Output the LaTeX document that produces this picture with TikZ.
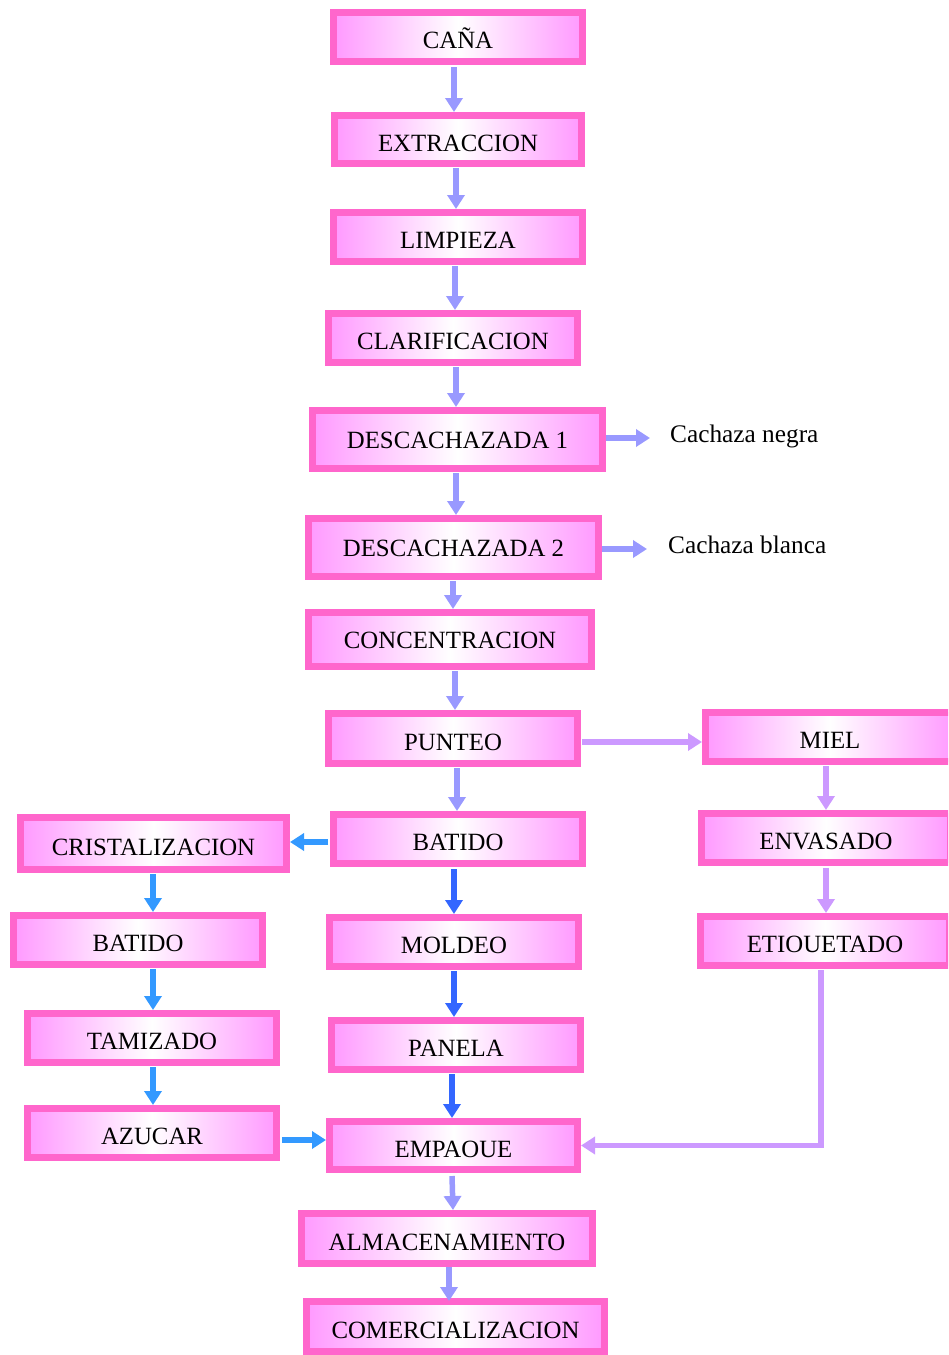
\documentclass[tikz,border=0pt]{standalone}
\usepackage{fontspec}
\setmainfont{Liberation Serif}
\usetikzlibrary{arrows.meta}
\definecolor{boxedge}{HTML}{FF66CC}
\definecolor{boxside}{HTML}{FF99FF}
\definecolor{flowc}{HTML}{9999FF}
\definecolor{sidec}{HTML}{3399FF}
\definecolor{moldc}{HTML}{3366FF}
\definecolor{honeyc}{HTML}{CC99FF}
\tikzset{
  box/.style={draw=boxedge, line width=7pt, outer sep=3.5pt, inner sep=0pt,
    left color=boxside, right color=boxside, middle color=white,
    font=\fontsize{24.8}{28}\selectfont, text height=23pt, text depth=0pt},
  midtext/.style={text height=17pt},
  sz/.style 2 args={minimum width=#1, minimum height=#2},
  link/.style={line width=5.5pt, -{Triangle[width=17pt,length=14pt]}},
  flow/.style={link, draw=flowc},
  sideflow/.style={link, draw=sidec},
  moldflow/.style={link, draw=moldc},
  honeyflow/.style={link, draw=honeyc},
  note/.style={font=\fontsize{25.3}{30}\selectfont, inner sep=0pt, anchor=base west}
}
\begin{document}
\begin{tikzpicture}[x=1pt,y=-1pt]
\useasboundingbox (0,0) rectangle (948,1355);
\clip (0,0) rectangle (948,1355);

% main column
\node[box, sz={249pt}{49pt}] (cana)  at (458,37)     {CAÑA};
\node[box, sz={247pt}{48pt}] (extr)  at (458,139.5)  {EXTRACCION};
\node[box, sz={249pt}{49pt}] (limp)  at (458,237)    {LIMPIEZA};
\node[box, sz={249pt}{49pt}] (clar)  at (453,338)    {CLARIFICACION};
\node[box, midtext, sz={290pt}{58pt}] (desc1) at (457.5,439.5) {DESCACHAZADA 1};
\node[box, midtext, sz={290pt}{58pt}] (desc2) at (453.5,547.5) {DESCACHAZADA 2};
\node[box, midtext, sz={283pt}{54pt}] (conc)  at (450,639.5)  {CONCENTRACION};
\node[box, sz={249pt}{50pt}] (punt)  at (453,738.5)  {PUNTEO};
\node[box, sz={249pt}{49pt}] (bat)   at (458,839)    {BATIDO};
\node[box, sz={249pt}{49pt}] (mold)  at (454,942)    {MOLDEO};
\node[box, sz={249pt}{49pt}] (pan)   at (456,1045)   {PANELA};
\node[box, sz={248pt}{48pt}] (emp)   at (453.5,1145.5) {EMPAOUE};
\node[box, sz={291pt}{50pt}] (alm)   at (447,1238.5) {ALMACENAMIENTO};
\node[box, sz={298pt}{50pt}] (com)   at (455.5,1326.5) {COMERCIALIZACION};

% sugar branch
\node[box, sz={266pt}{52pt}] (cris)  at (153.5,843.5) {CRISTALIZACION};
\node[box, sz={249pt}{49pt}] (batl)  at (138,940)    {BATIDO};
\node[box, sz={249pt}{49pt}] (tam)   at (152,1038)   {TAMIZADO};
\node[box, sz={249pt}{49pt}] (azu)   at (152,1133)   {AZUCAR};

% honey branch
\node[box, sz={249pt}{49pt}] (miel)  at (830,737)    {MIEL};
\node[box, sz={249pt}{49pt}] (env)   at (826,838)    {ENVASADO};
\node[box, sz={249pt}{49pt}] (eti)   at (825,941)    {ETIOUETADO};

% by-products
\node[note] (negra)  at (670,442) {Cachaza negra};
\node[note] (blanca) at (668,553) {Cachaza blanca};
\coordinate (negraend)  at (650,438);
\coordinate (blancaend) at (647,549);

% main flow
\draw[flow] ([xshift=-4pt,yshift=-2pt]cana.south) -- ([xshift=-4pt]extr.north);
\draw[flow] ([xshift=-2pt,yshift=-1pt]extr.south) -- ([xshift=-2pt]limp.north);
\draw[flow] ([xshift=-3pt,yshift=-1pt]limp.south) -- ([xshift=2pt]clar.north);
\draw[flow] ([xshift=3pt,yshift=-1pt]clar.south) -- ([xshift=-1.5pt]desc1.north);
\draw[flow] ([xshift=-1.5pt,yshift=-1pt]desc1.south) -- ([xshift=2.5pt]desc2.north);
\draw[flow] ([xshift=-0.5pt,yshift=-1pt]desc2.south) -- ([xshift=3pt]conc.north);
\draw[flow] ([xshift=5pt,yshift=-1pt]conc.south) -- ([xshift=2pt]punt.north);
\draw[flow] ([xshift=4pt,yshift=-1pt]punt.south) -- ([xshift=-1pt]bat.north);
\draw[moldflow] ([xshift=-4pt,yshift=-2pt]bat.south) -- ([xshift=0pt]mold.north);
\draw[moldflow] ([xshift=0pt,yshift=-1pt]mold.south) -- ([xshift=-2pt]pan.north);
\draw[moldflow] ([xshift=-4pt,yshift=-1pt]pan.south) -- ([xshift=-1.5pt]emp.north);
\draw[flow] ([xshift=-1.5pt,yshift=-3pt]emp.south) -- ([xshift=6pt]alm.north);
\draw[flow] ([xshift=2pt]alm.south) -- ([xshift=-6.5pt,yshift=-3pt]com.north);

% by-product outputs
\draw[flow] ([yshift=1.5pt]desc1.east) -- (negraend);
\draw[flow] ([yshift=-1.5pt]desc2.east) -- (blancaend);

% sugar flow
\draw[sideflow] ([xshift=-2pt,yshift=-3pt]bat.west) -- ([yshift=1.5pt]cris.east);
\draw[sideflow] ([xshift=-0.5pt,yshift=-1pt]cris.south) -- ([xshift=15pt]batl.north);
\draw[sideflow] ([xshift=15pt,yshift=-1pt]batl.south) -- ([xshift=1pt]tam.north);
\draw[sideflow] ([xshift=1pt,yshift=-1pt]tam.south) -- ([xshift=1pt]azu.north);
\draw[sideflow] ([xshift=2pt,yshift=-7pt]azu.east) -- ([yshift=5.5pt]emp.west);

% honey flow
\draw[honeyflow] ([xshift=1pt,yshift=-3.5pt]punt.east) -- ([yshift=-5pt]miel.west);
\draw[honeyflow] ([xshift=-4pt,yshift=-1pt]miel.south) -- ([xshift=0pt]env.north);
\draw[honeyflow] ([xshift=0pt,yshift=-2pt]env.south) -- ([xshift=1pt]eti.north);
\draw[honeyflow] ([xshift=-4pt,yshift=-1pt]eti.south) |- (emp.east);
\end{tikzpicture}
\end{document}
